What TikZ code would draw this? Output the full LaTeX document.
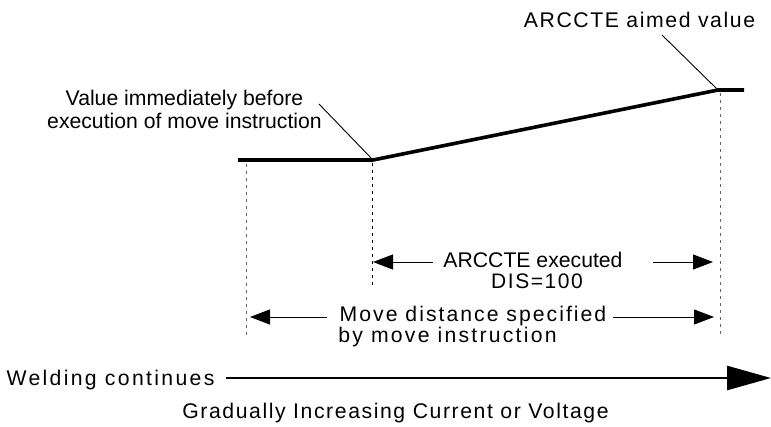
\documentclass[tikz,border=0pt]{standalone}
\usepackage{fontspec}
\setmainfont{Liberation Sans}
\usetikzlibrary{arrows.meta}
\newfontfamily\lsA[LetterSpace=7.5]{Liberation Sans}
\newfontfamily\lsB[LetterSpace=9.5]{Liberation Sans}
\newfontfamily\lsC[LetterSpace=10.5]{Liberation Sans}
\newfontfamily\lsD[LetterSpace=11]{Liberation Sans}
\begin{document}
\begin{tikzpicture}[x=1pt,y=-1pt,
  lbl/.style={inner sep=0pt,anchor=base,font=\fontsize{21.2}{23}\selectfont},
  curve/.style={line width=3.6pt,line join=miter},
  leader/.style={line width=0.9pt},
  guide/.style={line width=0.9pt,gray!80!black,dash pattern=on 3pt off 4pt},
  dim/.style={line width=1pt,-{Triangle[length=20pt,width=15pt]}},
  bigarrow/.style={line width=2.6pt,-{Triangle[length=44pt,width=24pt]}}]
\useasboundingbox (0,0) rectangle (771,426);
% value curve
\coordinate (c0) at (238,160);
\coordinate (c1) at (373,160);
\coordinate (c2) at (718,90);
\coordinate (c3) at (744,90);
\draw[curve] (c0) -- (c1) -- (c2) -- (c3);
% guides
\coordinate (g1t) at (246,164); \coordinate (g1b) at (246,337);
\coordinate (g2t) at (372,163); \coordinate (g2b) at (372,286);
\coordinate (g3t) at (720,93);  \coordinate (g3b) at (720,337);
\draw[guide] (g1t) -- (g1b);
\draw[guide,black] (g2t) -- (g2b);
\draw[guide] (g3t) -- (g3b);
% labels at top
\node[lbl,align=center] (val) at (184.5,128) {Value immediately before\\execution of move instruction};
\coordinate (valL) at (319,104);
\draw[leader] (valL) -- (c1);
\node[lbl,font=\fontsize{21.2}{23}\lsA] (aim) at (639.5,27) {ARCCTE aimed value};
\coordinate (aimL) at (662,35);
\draw[leader] (aimL) -- (c2);
% ARCCTE executed
\node[lbl] (exe) at (533,267.5) {ARCCTE executed};
\node[lbl,font=\fontsize{21}{23}\lsA] (dis) at (537,288) {DIS=100};
\coordinate (e1s) at (433,262); \coordinate (e1t) at (373,262);
\coordinate (e2s) at (653,262); \coordinate (e2t) at (713,262);
\draw[dim] (e1s) -- (e1t);
\draw[dim] (e2s) -- (e2t);
% move distance
\node[lbl,font=\fontsize{21.2}{23}\lsB] (mov) at (473,321) {Move distance specified};
\node[lbl,font=\fontsize{21.2}{23}\lsC] (bym) at (447.5,342) {by move instruction};
\coordinate (m1s) at (327,317); \coordinate (m1t) at (250,317);
\coordinate (m2s) at (613,317); \coordinate (m2t) at (714,317);
\draw[dim] (m1s) -- (m1t);
\draw[dim] (m2s) -- (m2t);
% welding arrow
\node[lbl,font=\fontsize{21.2}{23}\lsD] (weld) at (110.5,385) {Welding continues};
\coordinate (ws) at (226,378); \coordinate (wt) at (771,378);
\draw[bigarrow] (ws) -- (wt);
\node[lbl,font=\fontsize{21.2}{23}\lsA] (grad) at (395.5,418) {Gradually Increasing Current or Voltage};
\end{tikzpicture}
\end{document}
